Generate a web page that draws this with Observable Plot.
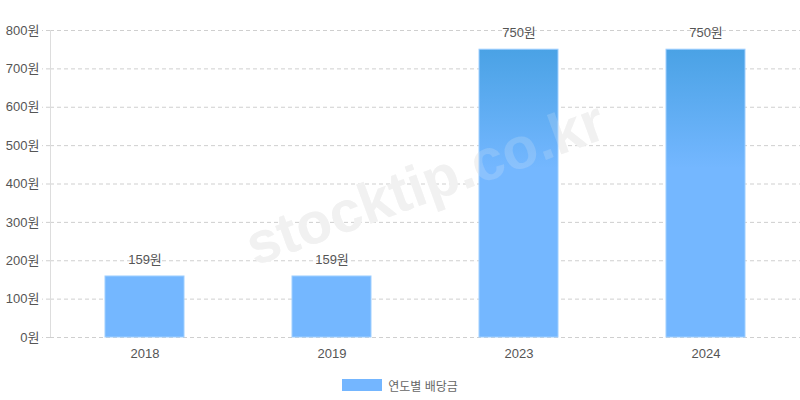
<!DOCTYPE html>
<html>
<head>
<meta charset="utf-8">
<script src="https://cdn.jsdelivr.net/npm/d3@7"></script>
<script src="https://cdn.jsdelivr.net/npm/@observablehq/plot@0.6"></script>
<style>
  html, body { margin: 0; padding: 0; background: #fff; }
  #wrap { position: relative; width: 800px; height: 400px; font-family: "Liberation Sans", Arial, "Noto Sans CJK KR", sans-serif; }
  #legend { position: absolute; left: 0; top: 377px; width: 800px; text-align: center; font-size: 12px; color: #666; }
  #legend .sw { display: inline-block; width: 40px; height: 12px; background: #74b6ff; vertical-align: middle; margin-right: 6px; position: relative; top: -1px; }
  #legend span { vertical-align: middle; }
</style>
</head>
<body>
<div id="wrap">
  <div id="chart"></div>
  <div id="legend"><i class="sw"></i><span id="legendLabel"></span></div>
</div>
<script>
const years = ["2018", "2019", "2023", "2024"];
const dividends = [159, 159, 750, 750];
const yTicks = [0, 100, 200, 300, 400, 500, 600, 700, 800];
const unit = "원";
const seriesName = "연도별 배당금";
const watermark = "stocktip.co.kr";

const data = years.map((y, i) => ({year: y, value: dividends[i]}));

const wmStyle = {text: d => d, frameAnchor: "middle", rotate: -20, fontSize: 58, fontWeight: "bold"};

const chart = Plot.plot({
  width: 800,
  height: 365,
  marginLeft: 50,
  marginRight: 0,
  marginTop: 30,
  marginBottom: 28,
  style: {fontFamily: '"Liberation Sans", Arial, "Noto Sans CJK KR", sans-serif', fontSize: "13px", background: "transparent"},
  x: {domain: years, paddingInner: 0.58, paddingOuter: 0.29, label: null},
  y: {domain: [0, 800], label: null},
  marks: [
    Plot.ruleY(yTicks, {stroke: "#cfcfcf", strokeDasharray: "4,3"}),
    Plot.text([watermark], {...wmStyle, fill: "#f1f1f1"}),
    Plot.barY(data, {x: "year", y: "value", fill: "url(#barGrad)", stroke: "#9fcfff", strokeWidth: 1}),
    Plot.text([watermark], {...wmStyle, fill: "#f4f4f4", fillOpacity: 0.18}),
    Plot.text(data, {x: "year", y: "value", text: d => d.value + unit, dy: -17, fill: "#555", fontSize: 13}),
    Plot.axisY({ticks: yTicks, tickSize: 8, tickPadding: 3, tickFormat: d => d + unit, stroke: "#cfcfcf", strokeDasharray: "4,3", fill: "#555", fontSize: 13}),
    Plot.axisX({tickSize: 0, tickPadding: 11, fill: "#555", fontSize: 13})
  ]
});

// gradient definition and left axis line
const svg = d3.select(chart);
const ys = chart.scale("y");
const defs = svg.insert("defs", ":first-child");
const grad = defs.append("linearGradient")
  .attr("id", "barGrad")
  .attr("gradientUnits", "userSpaceOnUse")
  .attr("x1", 0).attr("x2", 0)
  .attr("y1", ys.apply(750)).attr("y2", ys.apply(440));
grad.append("stop").attr("offset", "0%").attr("stop-color", "#4aa2e5");
grad.append("stop").attr("offset", "100%").attr("stop-color", "#74b7ff");

svg.append("line")
  .attr("x1", 50.5).attr("x2", 50.5)
  .attr("y1", ys.apply(800)).attr("y2", ys.apply(0))
  .attr("stroke", "#dddddd");

document.getElementById("chart").appendChild(chart);
document.getElementById("legendLabel").textContent = seriesName;
</script>
</body>
</html>
